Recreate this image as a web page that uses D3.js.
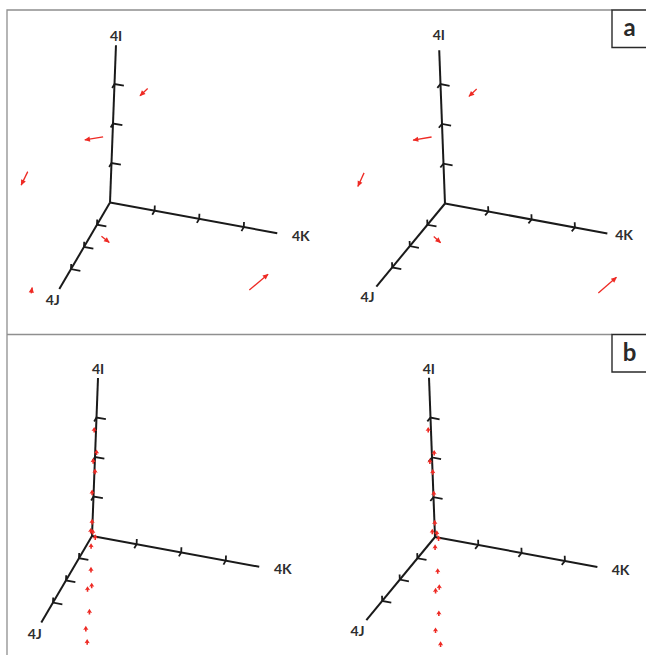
<!DOCTYPE html>
<html>
<head>
<meta charset="utf-8">
<script src="https://cdn.jsdelivr.net/npm/d3@7"></script>
<style>
body { margin: 0; background: #fff; }
</style>
</head>
<body>
<div id="root"></div>
<script>
const width = 646, height = 655;

const axisNames = ['4I', '4J', '4K'];
const tickValues = [1, 2, 3];
const panelLetters = ['a', 'b'];

// panel a: displacement vectors, tail and head as (i, j, k)
const arrowTails = [[2.67, -0.60, 0.58], [1.80, 0.29, -0.13], [0.39, -0.01, -1.86], [-0.38, 0.82, 0.06], [0.75, 5.50, -0.19], [-2.78, -1.98, 2.64]];
const arrowHeads = [[2.53, -0.47, 0.45], [1.74, 0.46, -0.49], [0.10, 0.12, -1.96], [-0.41, 0.97, 0.28], [0.84, 5.40, -0.20], [-2.42, -2.18, 2.99]];

// panel b: positions, all close to the 4I axis
const markI = [2.77, 2.03, 1.95, 1.67, 0.92, 0.29, 0.22, -0.02, -0.05, -0.28, -0.96, -1.44, -1.33, -1.98, -2.32, -2.90];
const markJ = [0.15, -0.15, 0.10, 0.06, -0.28, -0.11, 0.16, -0.20, -0.05, -0.03, -0.17, -0.13, -0.13, -0.10, 0.07, -0.34];
const markK = [0.00, -0.01, -0.01, 0.03, -0.11, -0.04, 0.01, -0.04, 0.06, -0.02, -0.04, -0.09, 0.00, -0.02, -0.04, -0.11];

// stereo views: screen pixels per unit along I, J, K
const eyes = {
  L: {I: [1.5, -39.5], J: [-13, 22.2], K: [44.6, 8.2], x0: 7, x1: 342},
  R: {I: [-1.5, -39.8], J: [-17.6, 21.3], K: [43.3, 8.0], x0: 342, x1: 646}
};
const panels = [
  {letter: 0, eye: 'L', ox: 110, oy: 202.5, lenI: 3.98, kLab: 4.08, y0: 10, y1: 334.5},
  {letter: 0, eye: 'R', ox: 445, oy: 203.5, lenI: 3.85, kLab: 3.93, y0: 10, y1: 334.5},
  {letter: 1, eye: 'L', ox: 92, oy: 536, lenI: 4.0, kLab: 4.08, y0: 334.5, y1: 655},
  {letter: 1, eye: 'R', ox: 435, oy: 537, lenI: 4.0, kLab: 4.08, y0: 334.5, y1: 655}
];
const lenJ = 3.9, lenK = 3.75;
const tkI = 0.13, tkJ = 0.18, tkK = 0.21;

const svg = d3.select('#root').append('svg')
  .attr('width', width).attr('height', height)
  .style('font-family', 'Lato, "Open Sans", sans-serif');

const defs = svg.append('defs');
defs.append('marker')
  .attr('id', 'head')
  .attr('viewBox', '-6 -3 7 6')
  .attr('markerUnits', 'userSpaceOnUse')
  .attr('markerWidth', 7).attr('markerHeight', 6)
  .attr('refX', 0).attr('refY', 0)
  .attr('orient', 'auto')
  .append('path').attr('d', 'M0.5,0L-5.2,-2.6L-5.2,2.6Z').attr('fill', '#ee2a24');

// frame
const frame = svg.append('g').attr('stroke', '#8f8f8f').attr('stroke-width', 1.3).attr('fill', 'none');
frame.append('path').attr('d', 'M612,10H7V655');
frame.append('path').attr('d', 'M7,334.5H612');

const line = d3.line();

panels.forEach((p, pi) => {
  const e = eyes[p.eye];
  defs.append('clipPath').attr('id', 'clip' + pi)
    .append('rect').attr('x', e.x0).attr('y', p.y0)
    .attr('width', e.x1 - e.x0).attr('height', p.y1 - p.y0);

  const sx = ['I', 'J', 'K'].map(a => d3.scaleLinear().domain([0, 1]).range([0, e[a][0]]));
  const sy = ['I', 'J', 'K'].map(a => d3.scaleLinear().domain([0, 1]).range([0, e[a][1]]));
  const proj = v => [p.ox + sx[0](v[0]) + sx[1](v[1]) + sx[2](v[2]),
                     p.oy + sy[0](v[0]) + sy[1](v[1]) + sy[2](v[2])];
  const g = svg.append('g').attr('clip-path', `url(#clip${pi})`);

  // axes
  const ends = [[p.lenI, 0, 0], [0, lenJ, 0], [0, 0, lenK]];
  g.selectAll('.axis').data(ends).join('path')
    .attr('d', d => line([proj([0, 0, 0]), proj(d)]))
    .attr('stroke', '#1a1a1a').attr('stroke-width', 2).attr('fill', 'none');

  // ticks: a small corner in the plane of the two other axes
  const ticks = [];
  tickValues.forEach(t => {
    ticks.push([[t, tkJ, 0], [t, 0, 0], [t, 0, tkK]]);
    ticks.push([[tkI, t, 0], [0, t, 0], [0, t, tkK]]);
    ticks.push([[tkI, 0, t], [0, 0, t], [0, tkJ, t]]);
  });
  g.selectAll('.tick').data(ticks).join('path')
    .attr('d', d => line(d.map(proj)))
    .attr('stroke', '#1a1a1a').attr('stroke-width', 1.8).attr('fill', 'none');

  if (p.letter === 0) {
    g.selectAll('.vec').data(arrowTails).join('path')
      .attr('d', (d, n) => line([proj(d), proj(arrowHeads[n])]))
      .attr('stroke', '#ee2a24').attr('stroke-width', 1.3).attr('fill', 'none')
      .attr('marker-end', 'url(#head)');
  } else {
    g.selectAll('.mark').data(markI).join('path')
      .attr('transform', (d, n) => {
        const q = proj([d, markJ[n], markK[n]]);
        return `translate(${q[0]},${q[1]})`;
      })
      .attr('d', 'M0,-3L2.6,1.1L0.8,0.6L0.8,2.6L-0.8,2.6L-0.8,0.6L-2.6,1.1Z')
      .attr('fill', '#ee2a24');
  }

  // axis labels
  const labelAt = [[4.1, 0, 0], [0, 4.4, 0], [0, 0, p.kLab]];
  g.selectAll('.lab').data(axisNames).join('text')
    .attr('x', (d, n) => proj(labelAt[n])[0])
    .attr('y', (d, n) => proj(labelAt[n])[1])
    .attr('text-anchor', (d, n) => n === 2 ? 'start' : 'middle')
    .attr('dy', (d, n) => n === 0 ? 0 : '0.36em')
    .attr('font-size', 14).attr('font-weight', 700).attr('fill', '#2e2e2e')
    .text(d => d);
});

const boxes = [{y0: 10, y1: 47.5}, {y0: 334.5, y1: 372}];
boxes.forEach((b, n) => {
  svg.append('path').attr('d', `M650,${b.y0}H612V${b.y1}H650`)
    .attr('fill', '#fff').attr('stroke', '#2a2a2a').attr('stroke-width', 1.4);
  svg.append('text').attr('x', 629.5).attr('y', n === 0 ? 36 : 361)
    .attr('text-anchor', 'middle').attr('font-size', 24).attr('font-weight', 700)
    .attr('fill', '#2a2a2a').text(panelLetters[n]);
});
</script>
</body>
</html>
